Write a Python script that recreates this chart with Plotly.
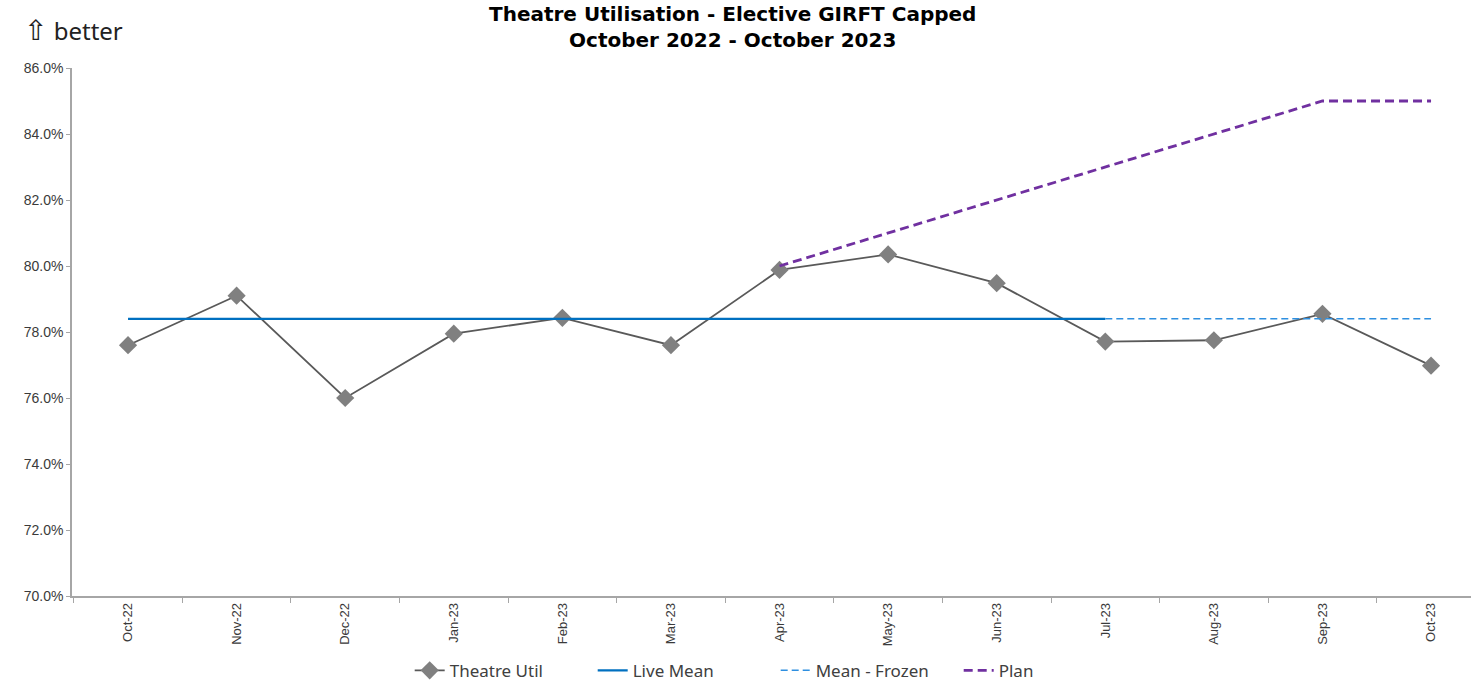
import plotly.graph_objects as go

months = ["Oct-22", "Nov-22", "Dec-22", "Jan-23", "Feb-23", "Mar-23", "Apr-23",
          "May-23", "Jun-23", "Jul-23", "Aug-23", "Sep-23", "Oct-23"]
theatre_util = [0.776, 0.791, 0.760, 0.7795, 0.7843, 0.776, 0.7988,
                0.8035, 0.7948, 0.7771, 0.7775, 0.7855, 0.7698]
live_mean = [0.784] * 10 + [None] * 3
mean_frozen = [None] * 9 + [0.784] * 4
plan = [None] * 6 + [0.80, 0.81, 0.82, 0.83, 0.84, 0.85, 0.85]

fig = go.Figure()
fig.add_trace(go.Scatter(
    x=months, y=theatre_util, name="Theatre Util", mode="lines+markers",
    line=dict(color="#595959", width=1.8),
    marker=dict(symbol="diamond", size=14, color="#808080"),
))
fig.add_trace(go.Scatter(
    x=months, y=live_mean, name="Live Mean", mode="lines",
    line=dict(color="#0070C0", width=2.2),
))
fig.add_trace(go.Scatter(
    x=months, y=mean_frozen, name="Mean - Frozen", mode="lines",
    line=dict(color="#2E8FE0", width=1.5, dash="7px,4px"),
))
fig.add_trace(go.Scatter(
    x=months, y=plan, name="Plan", mode="lines",
    line=dict(color="#7030A0", width=2.8, dash="9px,5px"),
))

axis_grey = "#A6A6A6"
ytick_font = dict(family="Liberation Sans, Arial, sans-serif", size=14, color="#3A3A3A")
xtick_font = dict(family="Liberation Sans, Arial, sans-serif", size=13, color="#3A3A3A")

fig.update_layout(
    width=1471, height=681,
    margin=dict(l=72, r=0, t=68, b=85),
    paper_bgcolor="white", plot_bgcolor="white",
    showlegend=True,
    legend=dict(
        orientation="h", x=0.503, xanchor="center",
        yref="container", y=0.015, yanchor="middle",
        font=dict(family="Noto Sans, sans-serif", size=17, color="#404040"),
        traceorder="normal", entrywidth=138,
    ),
    xaxis=dict(
        type="category", range=[-0.516, 12.368],
        showline=True, linecolor=axis_grey, linewidth=1.5,
        showgrid=False, zeroline=False,
        ticks="outside", tickcolor=axis_grey, ticklen=5,
        tickson="boundaries",
        tickangle=-90, tickfont=xtick_font,
    ),
    yaxis=dict(
        range=[0.70, 0.86], dtick=0.02, tickformat=".1%",
        showline=True, linecolor=axis_grey, linewidth=1.5,
        showgrid=False, zeroline=False,
        ticks="outside", tickcolor=axis_grey, ticklen=4,
        tickfont=ytick_font,
    ),
    annotations=[
        dict(text="<b>Theatre Utilisation - Elective GIRFT Capped<br>October 2022 - October 2023</b>",
             xref="paper", yref="paper", x=0.472, y=1, xanchor="center",
             yshift=41, yanchor="middle", showarrow=False,
             font=dict(family="DejaVu Sans, sans-serif", size=20, color="black")),
        dict(text="<span style='font-family:DejaVu Sans;font-size:28px'>⇧</span> better",
             xref="paper", yref="paper", x=-0.036, y=1,
             xanchor="left", yanchor="middle", yshift=38, showarrow=False,
             font=dict(family="Noto Sans, sans-serif", size=24, color="#222222")),
    ],
)

fig.write_html("out.html")
